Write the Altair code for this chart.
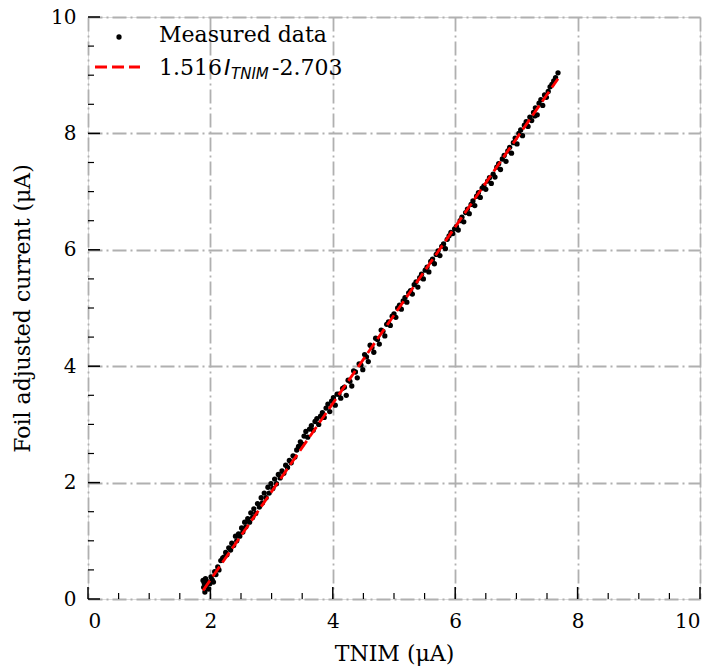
import altair as alt
import pandas as pd

x_meas = [1.88, 1.89, 1.90, 1.91, 1.92, 1.93, 1.95, 1.97, 1.99, 2.01, 2.03, 2.05, 2.07, 2.09, 2.12, 2.14,
          2.17, 2.20, 2.22, 2.25, 2.27, 2.30, 2.33, 2.35, 2.38, 2.41, 2.43, 2.46, 2.48, 2.51, 2.53, 2.56,
          2.58, 2.61, 2.64, 2.66, 2.69, 2.71, 2.74, 2.77, 2.80, 2.83, 2.85, 2.88, 2.91, 2.94, 2.96, 2.99,
          3.02, 3.05, 3.08, 3.11, 3.14, 3.17, 3.20, 3.23, 3.26, 3.29, 3.32, 3.35, 3.38, 3.41, 3.44, 3.47,
          3.50, 3.53, 3.56, 3.59, 3.62, 3.65, 3.68, 3.71, 3.74, 3.77, 3.80, 3.83, 3.86, 3.89, 3.92, 3.95,
          3.98, 4.01, 4.04, 4.07, 4.10, 4.13, 4.16, 4.19, 4.22, 4.25, 4.28, 4.31, 4.34, 4.37, 4.40, 4.43,
          4.46, 4.49, 4.52, 4.55, 4.58, 4.61, 4.64, 4.67, 4.70, 4.73, 4.76, 4.79, 4.82, 4.85, 4.88, 4.91,
          4.94, 4.97, 5.00, 5.03, 5.06, 5.09, 5.12, 5.15, 5.18, 5.21, 5.24, 5.27, 5.30, 5.33, 5.36, 5.39,
          5.42, 5.45, 5.48, 5.51, 5.54, 5.57, 5.60, 5.63, 5.66, 5.69, 5.72, 5.75, 5.78, 5.81, 5.84, 5.87,
          5.90, 5.93, 5.96, 5.99, 6.02, 6.05, 6.08, 6.11, 6.14, 6.17, 6.20, 6.23, 6.26, 6.29, 6.32, 6.35,
          6.38, 6.41, 6.44, 6.47, 6.50, 6.53, 6.56, 6.59, 6.62, 6.65, 6.68, 6.71, 6.74, 6.77, 6.80, 6.83,
          6.86, 6.89, 6.92, 6.95, 6.98, 7.01, 7.04, 7.07, 7.10, 7.13, 7.16, 7.19, 7.22, 7.25, 7.28, 7.31,
          7.34, 7.37, 7.40, 7.43, 7.46, 7.49, 7.52, 7.55, 7.58, 7.61, 7.64, 7.68, 7.30]
y_meas = [0.32, 0.20, 0.27, 0.12, 0.35, 0.22, 0.30, 0.17, 0.26, 0.38, 0.33, 0.29, 0.47, 0.42, 0.55, 0.50,
          0.66, 0.70, 0.72, 0.80, 0.76, 0.88, 0.84, 0.96, 0.92, 1.08, 1.00, 1.12, 1.08, 1.22, 1.15, 1.32,
          1.24, 1.38, 1.32, 1.48, 1.40, 1.55, 1.47, 1.64, 1.58, 1.74, 1.65, 1.82, 1.74, 1.92, 1.82, 1.98,
          1.90, 2.06, 1.98, 2.14, 2.08, 2.20, 2.16, 2.30, 2.26, 2.38, 2.34, 2.46, 2.44, 2.56, 2.62, 2.70,
          2.66, 2.80, 2.88, 2.78, 2.92, 2.98, 2.90, 3.05, 3.10, 3.00, 3.14, 3.20, 3.12, 3.28, 3.35, 3.22,
          3.40, 3.46, 3.33, 3.52, 3.52, 3.45, 3.62, 3.64, 3.50, 3.76, 3.74, 3.66, 3.92, 3.90, 3.80, 4.04,
          4.02, 3.94, 4.20, 4.16, 4.08, 4.36, 4.32, 4.24, 4.48, 4.46, 4.38, 4.62, 4.60, 4.52, 4.72, 4.76,
          4.70, 4.86, 4.90, 4.84, 5.00, 5.05, 4.98, 5.12, 5.18, 5.10, 5.26, 5.30, 5.24, 5.40, 5.45, 5.36,
          5.52, 5.58, 5.50, 5.65, 5.70, 5.62, 5.80, 5.84, 5.76, 5.92, 5.98, 5.90, 6.06, 6.10, 6.02, 6.18,
          6.24, 6.30, 6.28, 6.36, 6.40, 6.34, 6.50, 6.56, 6.48, 6.64, 6.70, 6.62, 6.78, 6.84, 6.76, 6.92,
          6.98, 6.90, 7.06, 7.10, 7.04, 7.18, 7.24, 7.14, 7.30, 7.25, 7.42, 7.48, 7.38, 7.56, 7.62, 7.52,
          7.70, 7.76, 7.66, 7.84, 7.92, 7.82, 8.00, 8.06, 7.96, 8.14, 8.20, 8.12, 8.28, 8.22, 8.36, 8.44,
          8.32, 8.52, 8.58, 8.48, 8.66, 8.62, 8.72, 8.80, 8.84, 8.90, 8.96, 9.04, 8.30]

# Linear fit: 1.516*I - 2.703, drawn between its end points
x_fit = [1.88, 7.68]
y_fit = [0.147, 8.940]

major_ticks = [0, 2, 4, 6, 8, 10]
minor_ticks = [0.5, 1, 1.5, 2.5, 3, 3.5, 4.5, 5, 5.5, 6.5, 7, 7.5, 8.5, 9, 9.5]

legend_points = ["Measured data"]
fit_coef = "1.516"
fit_var = "I"
fit_sub = "TNIM"
fit_const = "-2.703"

W, H = 612, 582
FONT = "DejaVu Serif"
FS = 20
TFS = 22
DOT = 28

xs = alt.Scale(domain=[0, 10], nice=False, zero=False)
ys = alt.Scale(domain=[0, 10], nice=False, zero=False)

grid_style = dict(grid=True, gridColor="#b0b0b0", gridDash=[14, 4, 2, 4], gridWidth=1.8,
                  ticks=False, domain=False, labelFont=FONT, labelFontSize=FS, labelColor="black",
                  titleFont=FONT, titleFontSize=TFS, titleFontWeight="normal", titleColor="black",
                  values=major_ticks, format="d")

meas = pd.DataFrame({"x": x_meas, "y": y_meas})
fit = pd.DataFrame({"x": x_fit, "y": y_fit})

points = alt.Chart(meas).mark_circle(size=DOT, color="black", opacity=1).encode(
    x=alt.X("x:Q", scale=xs, axis=alt.Axis(title="TNIM (μA)", labelPadding=12, titlePadding=12, **grid_style)),
    y=alt.Y("y:Q", scale=ys, axis=alt.Axis(title="Foil adjusted current (μA)", labelPadding=12, titlePadding=16, **grid_style)),
)

line = alt.Chart(fit).mark_line(color="#ff0000", strokeWidth=2.8, strokeDash=[12, 5]).encode(
    x=alt.X("x:Q", scale=xs), y=alt.Y("y:Q", scale=ys)
)

xmaj = alt.Chart(pd.DataFrame({"v": major_ticks})).mark_rule(color="black", strokeWidth=1.5).encode(
    x=alt.X("v:Q", scale=xs), y=alt.value(H), y2=alt.value(H - 12))
xmin = alt.Chart(pd.DataFrame({"v": minor_ticks})).mark_rule(color="black", strokeWidth=1.2).encode(
    x=alt.X("v:Q", scale=xs), y=alt.value(H), y2=alt.value(H - 6))
ymaj = alt.Chart(pd.DataFrame({"v": major_ticks})).mark_rule(color="black", strokeWidth=1.5).encode(
    y=alt.Y("v:Q", scale=ys), x=alt.value(0), x2=alt.value(12))
ymin = alt.Chart(pd.DataFrame({"v": minor_ticks})).mark_rule(color="black", strokeWidth=1.2).encode(
    y=alt.Y("v:Q", scale=ys), x=alt.value(0), x2=alt.value(6))

one = pd.DataFrame({"t": legend_points})
leg_pt = alt.Chart(one).mark_circle(size=DOT, color="black", opacity=1).encode(
    x=alt.value(31), y=alt.value(20))
leg_pt_txt = alt.Chart(one).mark_text(font=FONT, fontSize=22, align="left", baseline="alphabetic", color="black").encode(
    x=alt.value(71), y=alt.value(25), text="t:N")
leg_ln = alt.Chart(one).mark_rule(color="#ff0000", strokeWidth=2.8, strokeDash=[12, 5]).encode(
    x=alt.value(7), x2=alt.value(52), y=alt.value(50))

def seg(txt, x, y, size, font=FONT, style="normal"):
    return alt.Chart(pd.DataFrame({"t": [txt]})).mark_text(
        font=font, fontSize=size, fontStyle=style, align="left", baseline="alphabetic", color="black"
    ).encode(x=alt.value(x), y=alt.value(y), text="t:N")

leg_fit = [
    seg(fit_coef, 71, 58, 22),
    seg(fit_var, 136, 58, 22, font="DejaVu Sans", style="italic"),
    seg(fit_sub, 143, 62, 15, font="DejaVu Sans", style="italic"),
    seg(fit_const, 184, 58, 22),
]

chart = alt.layer(points, line, xmaj, xmin, ymaj, ymin, leg_pt, leg_pt_txt, leg_ln, *leg_fit).properties(
    width=W, height=H,
    autosize=alt.AutoSizeParams(type="none"),
    padding={"left": 88, "top": 17, "right": 17, "bottom": 70},
).configure_view(stroke="black", strokeWidth=1.8).configure(background="white")

chart.save("out.html", embed_options={"renderer": "svg", "actions": False})
